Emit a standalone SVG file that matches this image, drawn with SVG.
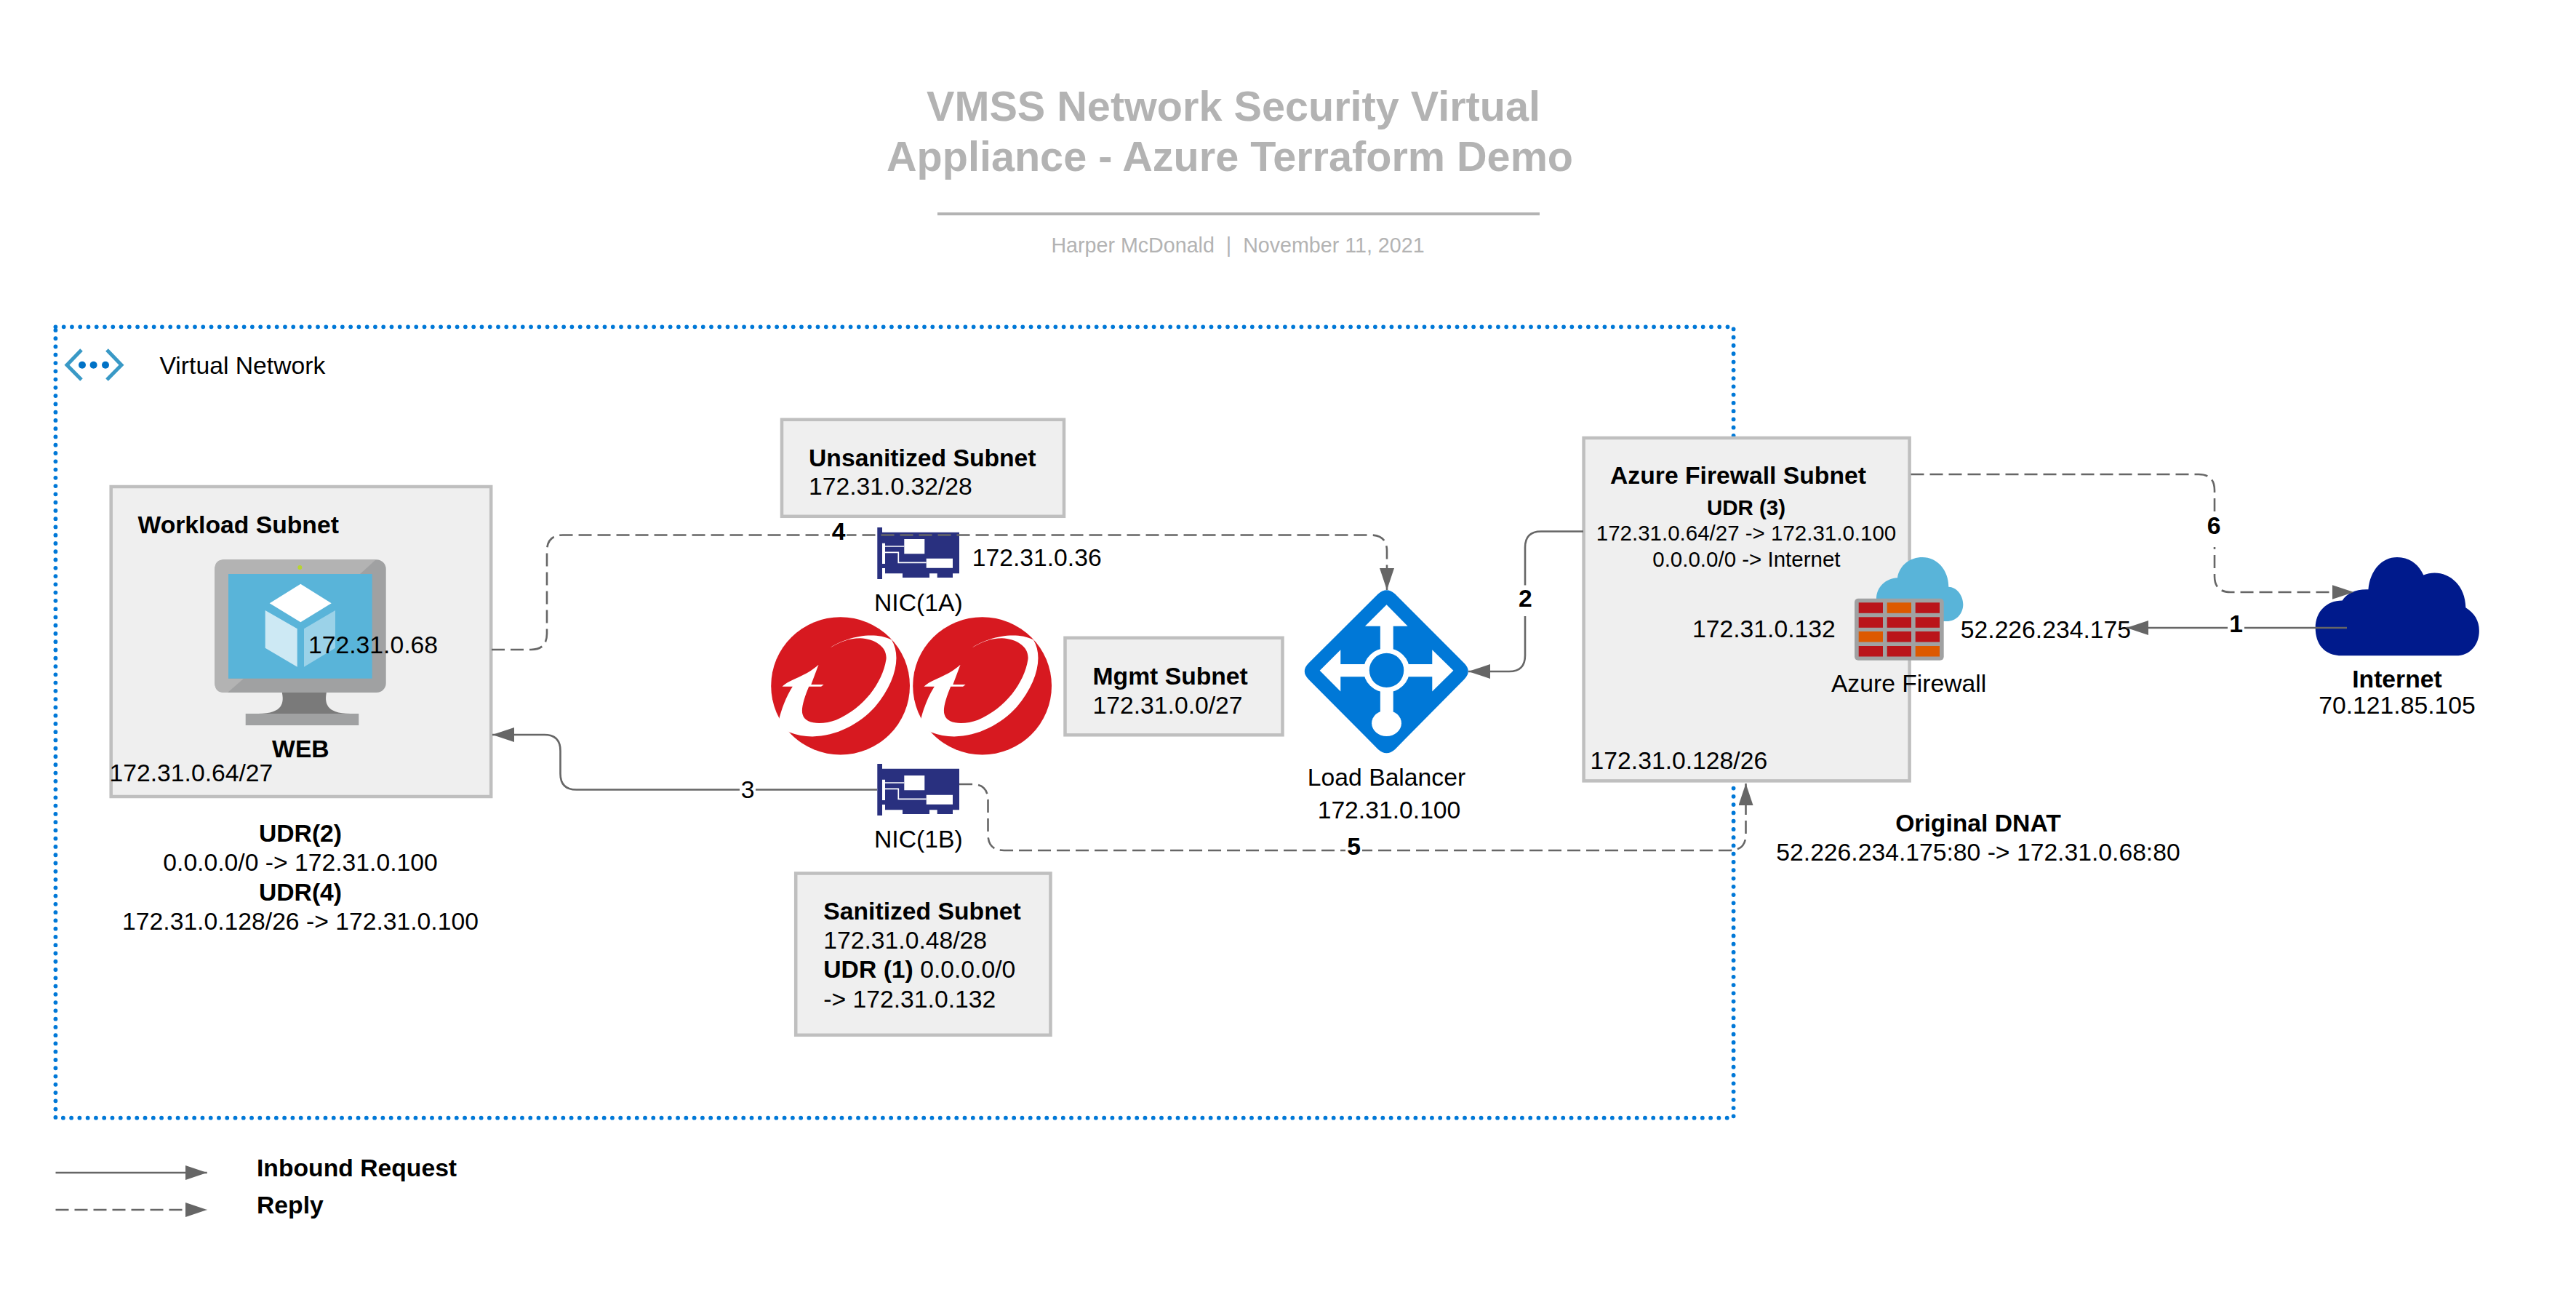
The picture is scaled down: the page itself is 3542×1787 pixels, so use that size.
<svg xmlns="http://www.w3.org/2000/svg" width="3542" height="1787" viewBox="0 0 3542 1787">
<style>
text{font-family:"Liberation Sans",Arial,sans-serif;font-size:33.7px;fill:#000;white-space:pre}
.b{font-weight:700}
.m{text-anchor:middle}
.s{font-size:29.5px}
.t{font-size:57.6px;font-weight:700;fill:#b3b3b3;text-anchor:middle}
.by{font-size:28.65px;fill:#b3b3b3;text-anchor:middle}
.box{fill:#efefef;stroke:#bfbfbf;stroke-width:4.5}
.c{fill:none;stroke:#666;stroke-width:2.6}
.d{stroke-dasharray:18 8}
.a{marker-end:url(#arr)}
.bg{fill:#fff}
</style>
<defs>
<marker id="arr" viewBox="0 0 30 20" refX="30" refY="10" markerWidth="30" markerHeight="20" markerUnits="userSpaceOnUse" orient="auto"><path d="M0,0L30,10L0,20Z" fill="#666"/></marker>
<g id="nic">
<path fill="#29307f" d="M1206.3,725H1213V731.7H1319V788.3H1310V794H1288.7V788.3H1278V794H1241V788.3H1217V781H1213V796H1206.3Z"/>
<path fill="#fff" d="M1213,746.7H1217V775H1213ZM1243.3,741H1271.3V761.3H1243.3ZM1273.7,767.7H1310V780.7H1273.7Z"/>
<path fill="none" stroke="#fff" stroke-width="1.7" d="M1217,751H1243.3M1217,759.3H1235.3V773.3H1273.7"/>
</g>
<g id="trend">
<ellipse cx="207" cy="880" rx="187" ry="212" fill="#d71920"/>
<path fill="#fff" d="M180,762C215,735 290,708 345,738C372,790 355,870 300,945C245,1015 150,1060 68,1022C55,1010 45,1000 40,990C48,950 60,915 78,882L50,882C70,860 115,850 148,815L128,876L162,876L155,882L122,882C110,915 100,950 105,968C112,1000 160,1000 195,985C270,950 320,870 330,800C335,760 300,735 260,733C230,733 205,745 180,762Z"/>
</g>
</defs>
<rect width="3542" height="1787" fill="#fff"/>
<g id="title">
<text class="t" x="1696" y="166">VMSS Network Security Virtual</text>
<text class="t" x="1691" y="235">Appliance - Azure Terraform Demo</text>
<rect x="1289" y="292" width="828" height="4" fill="#b3b3b3"/>
<text class="by" x="1702" y="346.7">Harper McDonald  |  November 11, 2021</text>
</g>
<g id="vnet">
<rect x="76.4" y="449.3" width="2307.2" height="1087.4" fill="none" stroke="#0078d7" stroke-width="5.8" stroke-linecap="round" stroke-dasharray="0 11.27"/>
<path d="M112,481L92,501.7L112,522M147,481L167,501.7L147,522" fill="none" stroke="#3999c6" stroke-width="5"/>
<circle cx="113" cy="501.7" r="5" fill="#0072c6"/><circle cx="128.6" cy="501.7" r="5" fill="#0072c6"/><circle cx="145" cy="501.7" r="5" fill="#0072c6"/>
<text x="219.5" y="514">Virtual Network</text>
</g>
<g id="workload-subnet">
<rect class="box" x="152.7" y="669" width="522.5" height="426"/>
<text class="b" x="189.5" y="732.7">Workload Subnet</text>
<text class="b m" x="413.4" y="1040.5">WEB</text>
<text x="150.5" y="1074">172.31.0.64/27</text>
</g>
<g id="web-vm">
<path fill="#7a7a7a" d="M387.3,950H449.3C446,965 447,981 482,981H355C390,981 391,965 387.3,950Z"/>
<rect x="337.7" y="981" width="155.6" height="16" fill="#a0a1a2"/>
<rect x="295.3" y="769.3" width="235.4" height="182.7" rx="13" fill="#a0a1a2"/>
<path fill="#b3b3b3" d="M308,769.3H516.7L495,789H314V932.7H335L313,952H308Q295.3,952 295.3,939V782Q295.3,769.3 308,769.3Z"/>
<rect x="314" y="789" width="197.7" height="143.7" fill="#59b4d9"/>
<circle cx="412.3" cy="780" r="3" fill="#b8d432"/>
<path fill="#fff" d="M413.3,802.7L455.7,829.3L413.3,855.3L370.7,829.3Z"/>
<path fill="#fff" opacity=".7" d="M364.7,839L408.7,864.3V916.7L364.7,890.7Z"/>
<path fill="#fff" opacity=".4" d="M461,839L418,864.3V916.7L461,890.7Z"/>
<text x="424" y="898">172.31.0.68</text>
</g>
<g id="workload-udr">
<text class="b m" x="413" y="1156.7">UDR(2)</text>
<text class="m" x="413" y="1197.3">0.0.0.0/0 -&gt; 172.31.0.100</text>
<text class="b m" x="413" y="1238.3">UDR(4)</text>
<text class="m" x="413" y="1278.3">172.31.0.128/26 -&gt; 172.31.0.100</text>
</g>
<g id="unsanitized-subnet">
<rect class="box" x="1075" y="576.8" width="388" height="133"/>
<text class="b" x="1112" y="640.6">Unsanitized Subnet</text>
<text x="1112" y="680.4">172.31.0.32/28</text>
</g>
<g id="nic-1a">
<use href="#nic"/>
<text x="1336.7" y="777.7">172.31.0.36</text>
<text class="m" x="1262.8" y="840">NIC(1A)</text>
</g>
<g id="appliance-1"><use href="#trend" transform="translate(1050,550) scale(.5102,.4464)"/></g>
<g id="appliance-2"><use href="#trend" transform="translate(1245,550) scale(.5102,.4464)"/></g>
<g id="mgmt-subnet">
<rect class="box" x="1464.5" y="876.8" width="299" height="133.5"/>
<text class="b" x="1502.5" y="940.6">Mgmt Subnet</text>
<text x="1502.5" y="980.8">172.31.0.0/27</text>
</g>
<g id="nic-1b">
<use href="#nic" y="325"/>
<text class="m" x="1262.8" y="1165">NIC(1B)</text>
</g>
<g id="sanitized-subnet">
<rect class="box" x="1094.2" y="1200.5" width="350.3" height="222.3"/>
<text class="b" x="1132.3" y="1264">Sanitized Subnet</text>
<text x="1132.3" y="1304">172.31.0.48/28</text>
<text x="1132.3" y="1344"><tspan class="b">UDR (1)</tspan> 0.0.0.0/0</text>
<text x="1132.3" y="1385">-&gt; 172.31.0.132</text>
</g>
<g id="load-balancer">
<g transform="translate(1780,550) scale(.5102,.4464)">
<path fill="#0078d7" d="M225,597Q248,573 271,597L457,810Q479,835 457,860L271,1075Q248,1099 225,1075L38,860Q16,835 38,810Z"/>
<path fill="#fff" d="M248,630L305,696H266V800H231V696H190ZM68,833L124,769V813H200V852H124V897ZM428,833L371,769V813H296V852H371V897ZM231,860H266V960H231Z"/>
<ellipse cx="248" cy="832" rx="62" ry="68" fill="#fff"/>
<ellipse cx="248" cy="832" rx="46.5" ry="53" fill="#0078d7"/>
<ellipse cx="248" cy="995" rx="40" ry="40" fill="#fff"/>
</g>
<text class="m" x="1906.5" y="1080">Load Balancer</text>
<text class="m" x="1910" y="1124.5">172.31.0.100</text>
</g>
<g id="firewall-subnet">
<rect class="box" x="2177.6" y="602" width="448" height="471.4"/>
<text class="b m" x="2390" y="665">Azure Firewall Subnet</text>
<text class="b m s" x="2401" y="707.6">UDR (3)</text>
<text class="m s" x="2401" y="742.9">172.31.0.64/27 -&gt; 172.31.0.100</text>
<text class="m s" x="2401.4" y="778.6">0.0.0.0/0 -&gt; Internet</text>
<text x="2327" y="875.9">172.31.0.132</text>
<text x="2186.6" y="1056.7">172.31.0.128/26</text>
</g>
<g id="azure-firewall">
<path fill="#59b4d9" transform="translate(2540,760) scale(.3333)" d="M120,190C120,140 160,105 207,103C215,50 260,18 310,18C370,18 418,70 418,140C450,140 478,175 478,212C478,250 450,282 410,282L120,282Z"/>
<rect x="2550" y="822.7" width="122.7" height="85" rx="5" fill="#a0a1a2"/>
<g fill="#ba141a">
<rect x="2555.7" y="828.3" width="33.3" height="14.5"/><rect x="2633.7" y="828.3" width="33.3" height="14.5"/>
<rect x="2555.7" y="848.3" width="33.3" height="14.5"/><rect x="2594.7" y="848.3" width="33.3" height="14.5"/><rect x="2633.7" y="848.3" width="33.3" height="14.5"/>
<rect x="2594.7" y="868" width="33.3" height="14.5"/><rect x="2633.7" y="868" width="33.3" height="14.5"/>
<rect x="2555.7" y="888" width="33.3" height="14.5"/><rect x="2594.7" y="888" width="33.3" height="14.5"/>
</g>
<g fill="#dd5900">
<rect x="2594.7" y="828.3" width="33.3" height="14.5"/><rect x="2555.7" y="868" width="33.3" height="14.5"/><rect x="2633.7" y="888" width="33.3" height="14.5"/>
</g>
<text class="m" x="2624.6" y="951">Azure Firewall</text>
<text x="2695.8" y="876.8">52.226.234.175</text>
</g>
<g id="internet">
<path fill="#001a8c" transform="translate(2500,600) scale(.6378,.3954)" d="M1130,762C1090,762 1072,720 1072,665C1072,610 1095,570 1130,570C1140,545 1160,530 1186,532C1190,465 1215,420 1248,420C1275,420 1295,445 1305,482C1345,455 1395,500 1396,595C1415,615 1425,640 1425,675C1425,725 1405,762 1375,762Z"/>
<text class="b m" x="3296" y="944.8">Internet</text>
<text class="m" x="3296" y="980.8">70.121.85.105</text>
</g>
<g id="dnat">
<text class="b m" x="2720" y="1143">Original DNAT</text>
<text class="m" x="2720" y="1183">52.226.234.175:80 -&gt; 172.31.0.68:80</text>
</g>
<g id="connectors">
<path class="c d a" d="M676,893H730Q752,893 752,871V757.5Q752,735.5 774,735.5H1885Q1907,735.5 1907,757.5V811"/>
<path class="c a" d="M1206,1085.5H792.5Q770.5,1085.5 770.5,1063.5V1032Q770.5,1010 748.5,1010H677"/>
<path class="c d a" d="M1319,1078H1336.5Q1358.5,1078 1358.5,1100V1147Q1358.5,1169 1380.5,1169H2378.5Q2400.5,1169 2400.5,1147V1077"/>
<path class="c a" d="M2177,730.5H2119Q2097,730.5 2097,752.5V901Q2097,923 2075,923H2019"/>
<path class="c d a" d="M2627.5,652H3023Q3045,652 3045,674V792Q3045,814 3067,814H3236.5"/>
<path class="c a" d="M3227,863H2924"/>
<path class="c a" d="M76.5,1612H284.7"/>
<path class="c d a" d="M76.5,1663H284.7"/>
<rect class="bg" x="3063" y="842" width="23" height="34"/><text class="b m" x="3074.6" y="869">1</text>
<rect class="bg" x="2085" y="804.5" width="24" height="42.5"/><text class="b m" x="2097.3" y="833.5">2</text>
<rect class="bg" x="1017" y="1070" width="22" height="30"/><text class="m" x="1028" y="1097">3</text>
<rect class="bg" x="1141" y="716" width="23" height="30"/><text class="b m" x="1153" y="742">4</text>
<rect class="bg" x="1850" y="1155" width="23" height="26"/><text class="b m" x="1861.6" y="1175">5</text>
<rect class="bg" x="3033" y="707" width="22" height="45"/><text class="b m" x="3044" y="733.6">6</text>
</g>
<g id="legend">
<text class="b" x="353" y="1617.3">Inbound Request</text>
<text class="b" x="353" y="1668.3">Reply</text>
</g>
</svg>
